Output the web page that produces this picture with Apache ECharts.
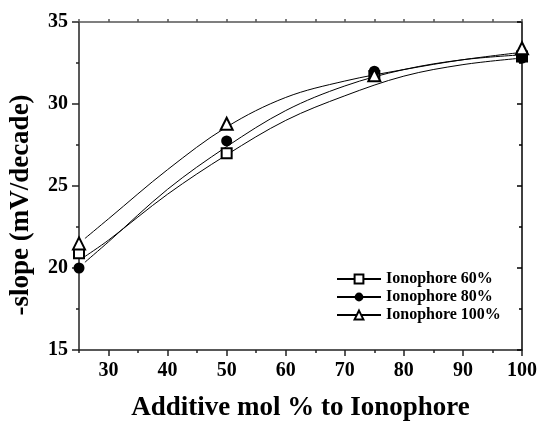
<!DOCTYPE html>
<html>
<head>
<meta charset="utf-8">
<script src="https://cdn.jsdelivr.net/npm/echarts@6/dist/echarts.min.js"></script>
<style>
  html, body { margin: 0; padding: 0; background: #fff; }
  #chart { width: 539px; height: 421px; }
</style>
</head>
<body>
<div id="chart"></div>
<script>
// measured points
var xPoints = [25, 50, 75, 100];
var ion60 = [20.9, 27.0, 31.7, 32.9];
var ion80 = [20.0, 27.75, 32.0, 32.8];
var ion100 = [21.5, 28.8, 31.75, 33.4];

// fitted curves
var fitX = [26, 30, 40, 50, 60, 70, 80, 90, 100];
var fit60 = [20.7, 21.7, 24.5, 26.9, 29.0, 30.5, 31.7, 32.4, 32.8];
var fit80 = [20.35, 21.6, 24.8, 27.4, 29.6, 31.1, 32.1, 32.7, 33.0];
var fit100 = [21.8, 23.0, 26.0, 28.6, 30.4, 31.4, 32.1, 32.7, 33.15];

var xTicks = [30, 40, 50, 60, 70, 80, 90, 100];
var xMinorTicks = [25, 35, 45, 55, 65, 75, 85, 95];
var names = ['Ionophore 60%', 'Ionophore 80%', 'Ionophore 100%'];

function pairs(xs, ys) {
  return xs.map(function (x, i) { return [x, ys[i]]; });
}

var font = 'Liberation Serif';
var axisColor = '#222';

var chart = echarts.init(document.getElementById('chart'));

function fitSeries(name, ys, sym) {
  return {
    name: name,
    type: 'line',
    xAxisIndex: 0,
    yAxisIndex: 0,
    smooth: 0.35,
    symbol: sym,
    showSymbol: false,
    data: pairs(fitX, ys),
    lineStyle: { color: '#000', width: 1 },
    itemStyle: { color: '#000' },
    z: 2
  };
}

function pointSeries(name, ys, sym, size) {
  return {
    name: name,
    type: 'scatter',
    xAxisIndex: 0,
    yAxisIndex: 0,
    symbol: sym,
    symbolSize: size,
    data: pairs(xPoints, ys),
    itemStyle: { color: '#000', borderWidth: 1, opacity: 1 },
    z: 3
  };
}

var option = {
  backgroundColor: '#fff',
  animation: false,
  grid: { left: 79, right: 17, top: 22, bottom: 71, outerBoundsMode: 'none' },
  legend: {
    data: names,
    orient: 'vertical',
    left: 331,
    top: 266,
    itemWidth: 44,
    itemHeight: 11,
    itemGap: 2,
    textStyle: { fontFamily: font, fontWeight: 'bold', fontSize: 16, color: '#000' }
  },
  xAxis: [
    {
      type: 'value', position: 'bottom', min: 25, max: 100,
      axisLine: { show: true, onZero: false, lineStyle: { color: axisColor, width: 1.5 } },
      axisTick: { show: true, length: 6, customValues: xTicks, lineStyle: { color: axisColor, width: 1.5 } },
      axisLabel: { customValues: xTicks, margin: 11, fontFamily: font, fontWeight: 'bold', fontSize: 20, color: '#000' },
      splitLine: { show: false },
      name: 'Additive mol % to Ionophore',
      nameLocation: 'middle',
      nameGap: 45,
      nameTextStyle: { fontFamily: font, fontWeight: 'bold', fontSize: 27, color: '#000' }
    },
    {
      type: 'value', position: 'bottom', min: 25, max: 100,
      axisLine: { show: false },
      axisTick: { show: true, length: 3, customValues: xMinorTicks, lineStyle: { color: axisColor, width: 1.5 } },
      axisLabel: { show: false },
      splitLine: { show: false }
    },
    {
      type: 'value', position: 'top', min: 25, max: 100, interval: 5,
      axisLine: { show: true, onZero: false, lineStyle: { color: '#555', width: 1.5 } },
      axisTick: { show: true, length: 3, lineStyle: { color: '#555', width: 1.5 } },
      axisLabel: { show: false },
      splitLine: { show: false }
    }
  ],
  yAxis: [
    {
      type: 'value', position: 'left', min: 15, max: 35, interval: 5,
      axisLine: { show: true, onZero: false, lineStyle: { color: axisColor, width: 1.5 } },
      axisTick: { show: true, length: 7, lineStyle: { color: axisColor, width: 1.5 } },
      minorTick: { show: true, splitNumber: 2, length: 3, lineStyle: { color: axisColor, width: 1.5 } },
      axisLabel: { margin: 11, fontFamily: font, fontWeight: 'bold', fontSize: 20, color: '#000' },
      splitLine: { show: false },
      name: '-slope (mV/decade)',
      nameLocation: 'middle',
      nameGap: 44,
      nameRotate: 90,
      nameTextStyle: { fontFamily: font, fontWeight: 'bold', fontSize: 27, color: '#000', padding: [0, 38, 0, 0] }
    },
    {
      type: 'value', position: 'right', min: 15, max: 35, interval: 5,
      axisLine: { show: true, onZero: false, lineStyle: { color: '#000', width: 1.5 } },
      axisTick: { show: true, inside: true, length: 5, lineStyle: { color: '#000', width: 1.5 } },
      minorTick: { show: true, splitNumber: 2, length: 3, lineStyle: { color: '#000', width: 1.5 } },
      axisLabel: { show: false },
      splitLine: { show: false }
    }
  ],
  series: [
    fitSeries(names[0], fit60, 'emptyRect'),
    fitSeries(names[1], fit80, 'circle'),
    fitSeries(names[2], fit100, 'emptyTriangle'),
    pointSeries('pts60', ion60, 'emptyRect', 10),
    pointSeries('pts80', ion80, 'circle', 11),
    pointSeries('pts100', ion100, 'emptyTriangle', 12)
  ]
};

chart.setOption(option);
</script>
</body>
</html>
